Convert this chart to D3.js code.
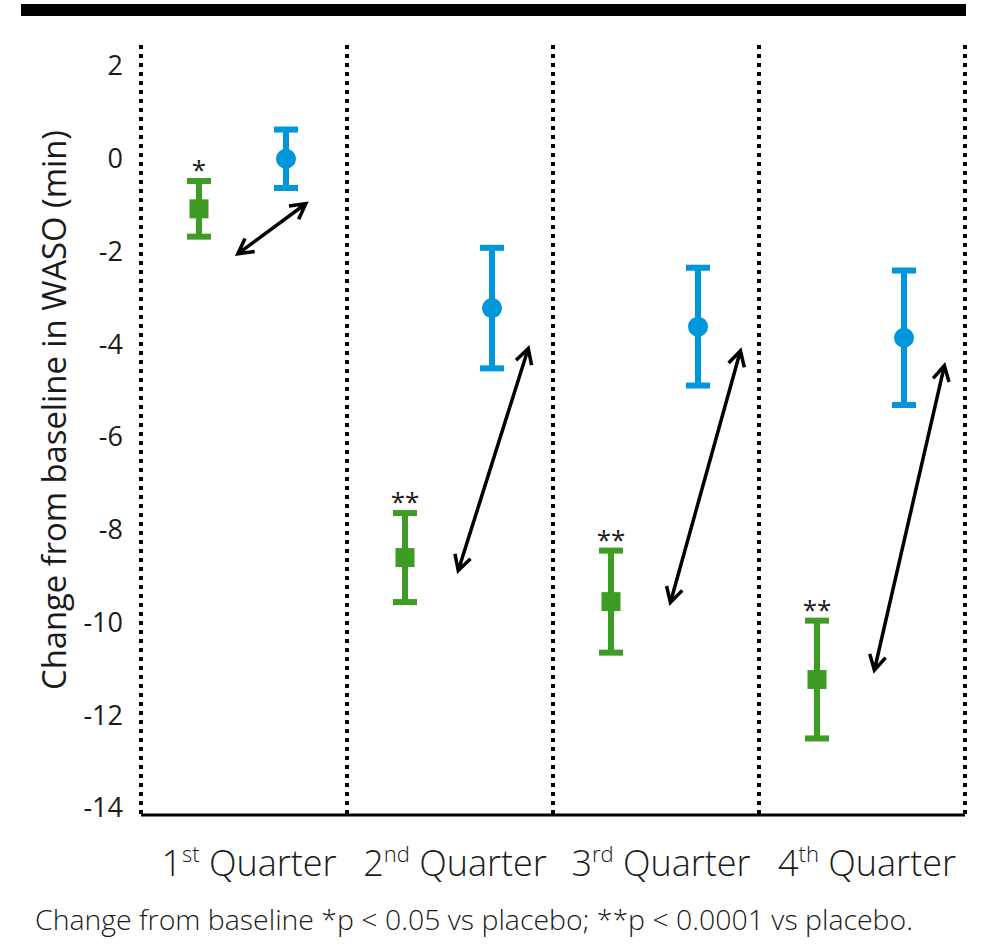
<!DOCTYPE html>
<html>
<head>
<meta charset="utf-8">
<script src="https://cdn.jsdelivr.net/npm/d3@7"></script>
<style>
	body { margin: 0; background: #fff; }
	text { font-family: "Open Sans", sans-serif; fill: #1a1a1a; }
</style>
</head>
<body>
<div id="chart"></div>
<script>
// quarters, with the ordinal suffix drawn as superscript
const quarters = ["1", "2", "3", "4"];
const suffixes = ["st", "nd", "rd", "th"];

// drug (green squares) and placebo (blue circles), change from baseline in minutes
const drugMean = [-1.08, -8.6, -9.55, -11.23];
const drugErr = [0.6, 0.96, 1.1, 1.27];
const placeboMean = [0, -3.22, -3.62, -3.86];
const placeboErr = [0.63, 1.3, 1.27, 1.45];
const stars = ["*", "**", "**", "**"];

// double arrows between the groups, y ends in data units
const arrowFrom = [-2.05, -8.88, -9.57, -11.03];
const arrowTo = [-0.97, -4.09, -4.14, -4.46];

const yTicks = [2, 0, -2, -4, -6, -8, -10, -12, -14];

const W = 995, H = 947;
const green = "#3d9c23", blue = "#0096dc";

const svg = d3.select("#chart").append("svg")
	.attr("width", W)
	.attr("height", H);

const x = d3.scaleBand().domain(quarters).range([141, 965]);
const y = d3.scaleLinear().domain([2, -14]).range([66, 808]);

// thick bar across the top
svg.append("rect")
	.attr("x", 21).attr("y", 4)
	.attr("width", 945).attr("height", 12)
	.attr("fill", "#000");

// dotted separators
const seps = quarters.map((q) => x(q)).concat([x.range()[1]]);
svg.selectAll(".sep")
	.data(seps)
	.join("line")
	.attr("class", "sep")
	.attr("x1", (d) => d).attr("x2", (d) => d)
	.attr("y1", 45).attr("y2", 814)
	.attr("stroke", "#000")
	.attr("stroke-width", 4)
	.attr("stroke-dasharray", "4,5");

// baseline
svg.append("line")
	.attr("x1", 141).attr("x2", 965)
	.attr("y1", 815).attr("y2", 815)
	.attr("stroke", "#000")
	.attr("stroke-width", 3);

// y tick labels
svg.selectAll(".ytick")
	.data(yTicks)
	.join("text")
	.attr("class", "ytick")
	.attr("x", 123)
	.attr("y", (d) => y(d))
	.attr("dy", "0.35em")
	.attr("text-anchor", "end")
	.style("font-size", "27px")
	.text((d) => d);

// y axis title
svg.append("text")
	.attr("transform", "translate(66,410) rotate(-90)")
	.attr("text-anchor", "middle")
	.style("font-size", "32px")
	.attr("textLength", 560)
	.attr("lengthAdjust", "spacingAndGlyphs")
	.text("Change from baseline in WASO (min)");

// x labels
const xl = svg.selectAll(".xlab")
	.data(quarters)
	.join("text")
	.attr("class", "xlab")
	.attr("x", (d) => x(d) + x.bandwidth() / 2 + 5)
	.attr("y", 876)
	.attr("text-anchor", "middle")
	.style("font-size", "36px")
	.style("font-weight", 300);
xl.append("tspan").text((d) => d);
xl.append("tspan")
	.attr("dy", -14)
	.style("font-size", "22px")
	.text((d, i) => suffixes[i]);
xl.append("tspan")
	.attr("dy", 14)
	.text(" Quarter");

// footnote
svg.append("text")
	.attr("x", 35)
	.attr("y", 930)
	.style("font-size", "27px")
	.style("font-weight", 300)
	.attr("textLength", 878)
	.attr("lengthAdjust", "spacingAndGlyphs")
	.text("Change from baseline *p < 0.05 vs placebo; **p < 0.0001 vs placebo.");

const gx = (i) => x(quarters[i]) + 58;
const bx = (i) => x(quarters[i]) + 145;

// error bars
function errorBars(means, errs, xf, color) {
	const g = svg.append("g").attr("stroke", color);
	g.selectAll(".stem")
		.data(means)
		.join("line")
		.attr("x1", (d, i) => xf(i)).attr("x2", (d, i) => xf(i))
		.attr("y1", (d, i) => y(d + errs[i]))
		.attr("y2", (d, i) => y(d - errs[i]))
		.attr("stroke-width", 6);
	[1, -1].forEach((s) => {
		g.selectAll(".cap" + s)
			.data(means)
			.join("line")
			.attr("x1", (d, i) => xf(i) - 12).attr("x2", (d, i) => xf(i) + 12)
			.attr("y1", (d, i) => y(d + s * errs[i]))
			.attr("y2", (d, i) => y(d + s * errs[i]))
			.attr("stroke-width", 6);
	});
}
errorBars(drugMean, drugErr, gx, green);
errorBars(placeboMean, placeboErr, bx, blue);

svg.selectAll(".sq")
	.data(drugMean)
	.join("rect")
	.attr("x", (d, i) => gx(i) - 9.5)
	.attr("y", (d) => y(d) - 9.5)
	.attr("width", 19).attr("height", 19)
	.attr("fill", green);

svg.selectAll(".dot")
	.data(placeboMean)
	.join("circle")
	.attr("cx", (d, i) => bx(i))
	.attr("cy", (d) => y(d))
	.attr("r", 10)
	.attr("fill", blue);

// significance stars
svg.selectAll(".star")
	.data(stars)
	.join("text")
	.attr("x", (d, i) => gx(i))
	.attr("y", (d, i) => y(drugMean[i] + drugErr[i]) - 2)
	.attr("text-anchor", "middle")
	.style("font-size", "26px")
	.text((d) => d);

// double-headed arrows
const a0 = [0.47, 0.54, 0.57, 0.56], a1 = [0.8, 0.88, 0.91, 0.9];
function head(xA, yA, xB, yB) {
	const ang = Math.atan2(yA - yB, xA - xB), len = 17, spread = 0.5;
	const p1 = [xB + len * Math.cos(ang + spread), yB + len * Math.sin(ang + spread)];
	const p2 = [xB + len * Math.cos(ang - spread), yB + len * Math.sin(ang - spread)];
	return `M${p1}L${xB},${yB}L${p2}`;
}
quarters.forEach((q, i) => {
	const x1 = x(q) + a0[i] * x.bandwidth(), y1 = y(arrowFrom[i]);
	const x2 = x(q) + a1[i] * x.bandwidth(), y2 = y(arrowTo[i]);
	svg.append("path")
		.attr("d", `M${x1},${y1}L${x2},${y2}` + head(x1, y1, x2, y2) + head(x2, y2, x1, y1))
		.attr("fill", "none")
		.attr("stroke", "#000")
		.attr("stroke-width", 3.5)
		.attr("stroke-linejoin", "miter");
});
</script>
</body>
</html>
